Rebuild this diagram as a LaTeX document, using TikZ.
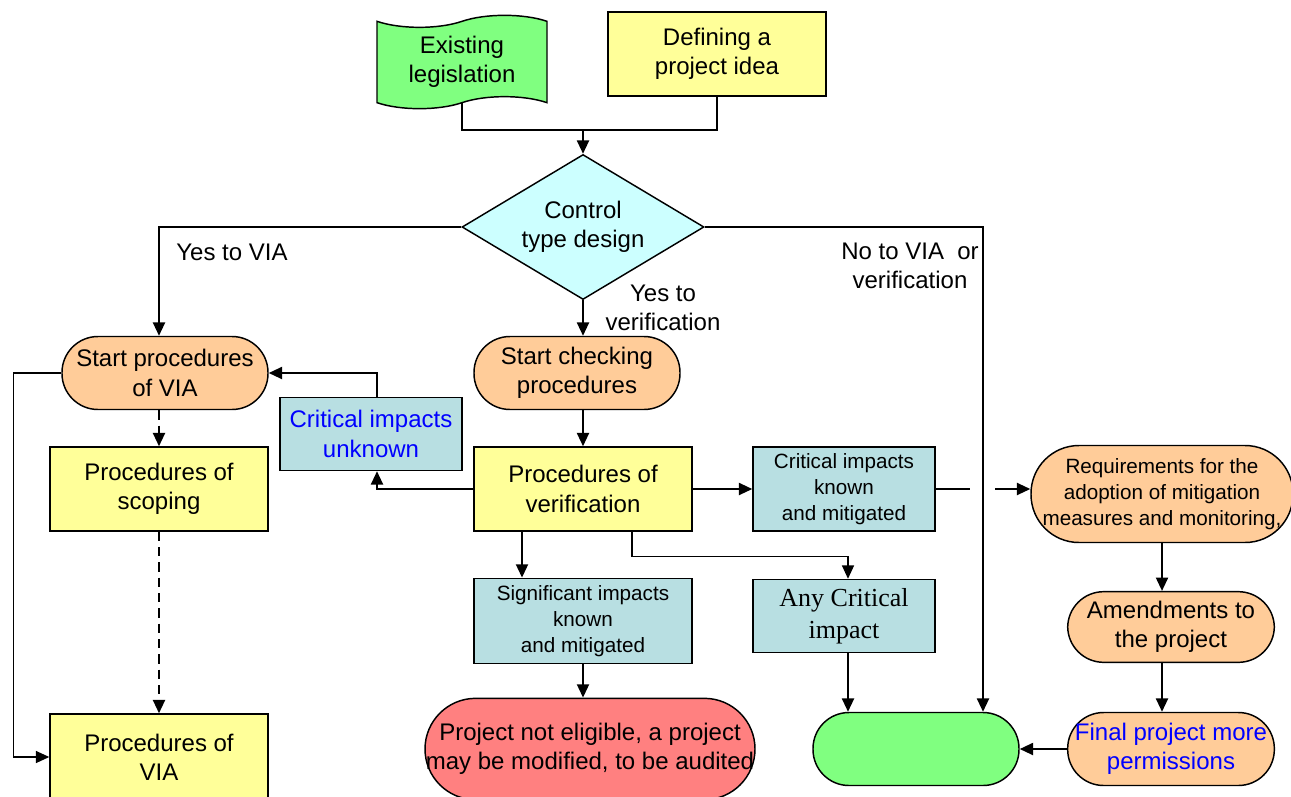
\documentclass[tikz,border=0pt]{standalone}
\usepackage{fontspec}
\setmainfont{Liberation Sans}
\newfontfamily\timesfont{Liberation Serif}
\usetikzlibrary{arrows.meta,positioning,shapes.geometric,shapes.symbols}

\begin{document}
\begin{tikzpicture}[
    x=0.75pt, y=-0.75pt,
    every node/.style={align=center, inner sep=0pt, line width=1.1pt,
        font=\fontsize{18}{22}\selectfont},
    box/.style={draw, rectangle, minimum width=163.5pt, minimum height=63pt},
    smallbox/.style={box, minimum width=136.5pt},
    pill/.style={draw, rectangle, rounded corners=27pt, fill=peach,
        minimum width=154.5pt, minimum height=54.75pt},
    smalltext/.style={font=\fontsize{15.5}{19.5}\selectfont},
    flow/.style={line width=1.5pt, -{Triangle[length=10pt,width=9pt]}},
    thinflow/.style={line width=0.9pt, -{Triangle[length=10pt,width=9pt]}},
    link/.style={line width=0.9pt}
]
\definecolor{grn}{HTML}{80FF80}
\definecolor{ylw}{HTML}{FFFF99}
\definecolor{peach}{HTML}{FFCC99}
\definecolor{cyn}{HTML}{CCFFFF}
\definecolor{teal}{HTML}{B8DFE2}
\definecolor{rd}{HTML}{FF8080}

    \useasboundingbox (0,0) rectangle (1291,796);

    \node [tape, draw, fill=grn, minimum width=127.5pt, minimum height=70pt,
        tape bend height=9pt, tape bend top=in and out,
        tape bend bottom=in and out] (legis) at (462,62) {Existing\\legislation};
    \node [box, fill=ylw] (idea) at (717,54) {Defining a\\project idea};
    \node [diamond, draw, fill=cyn, aspect=1.67, minimum width=181.5pt,
        minimum height=108.75pt] (ctrl) at (583,227) {Control\\type design};

    \node [pill] (startvia) at (165,373) {Start procedures\\of VIA};
    \node [pill] (startchk) at (577,373) {Start checking\\procedures};
    \node [smallbox, fill=teal, text=blue, minimum height=54.75pt]
        (unknown) at (371,434) {Critical impacts\\unknown};
    \node [box, fill=ylw] (scoping) at (159,489) {Procedures of\\scoping};
    \node [box, fill=ylw] (verif) at (583,489) {Procedures of\\verification};
    \node [smallbox, smalltext, fill=teal] (known) at (844,489)
        {Critical impacts\\known\\and mitigated};
    \node [pill, smalltext, rounded corners=36pt, minimum width=196.5pt,
        minimum height=72.75pt] (req) at (1162,494)
        {Requirements for the\\adoption of mitigation\\measures and monitoring,};
    \node [box, smalltext, fill=teal, minimum height=64pt] (sig) at (583,621)
        {Significant impacts\\known\\and mitigated};
    \node [smallbox, fill=teal, minimum height=54.75pt,
        font=\timesfont\fontsize{19.5}{24}\selectfont] (anycrit) at (844,616)
        {Any Critical\\impact};
    \node [pill, minimum width=155pt, minimum height=53pt] (amend)
        at (1171,627) {Amendments to\\the project};
    \node [pill, minimum width=155pt, text=blue] (final) at (1171,749)
        {Final project more\\permissions};
    \node [pill, fill=grn] (done) at (916,749) {};
    \node [pill, fill=rd, rounded corners=38pt, minimum width=247.5pt,
        minimum height=76pt] (noelig) at (590,749)
        {Project not eligible, a project\\may be modified, to be audited};
    \node [box, fill=ylw, minimum height=64.5pt] (procvia) at (159,757)
        {Procedures of\\VIA};

    \node (yesvia) at (232,252) {Yes to VIA};
    \node (yesver) at (663,308) {Yes to\\verification};
    \node (novia) at (910,266) {No to VIA\ \ or\\verification};

    \coordinate (join) at (583,130);
    \coordinate (nobend) at (983,227);
    \coordinate (hopl) at (970,489);
    \coordinate (hopr) at (995,489);

    \draw [link] (legis.south) |- (join) -| (idea.south);
    \draw [flow] (join) -- (ctrl.north);
    \draw [flow] (ctrl.west) -| (scoping.north |- startvia.north);
    \draw [flow] (ctrl.south) -- (verif.north |- startchk.north);
    \draw [flow] (ctrl.east) -| (nobend |- done.north);

    \draw [flow, dash pattern=on 7pt off 4.5pt]
        (scoping.north |- startvia.south) -- (scoping.north);
    \draw [flow, dash pattern=on 7pt off 4.5pt] (scoping.south) -- (procvia.north);
    \draw [thinflow] (startvia.west) -- ++(-48,0) |- (procvia.west);

    \draw [flow] ([xshift=4.5pt]unknown.north) |- (startvia.east);
    \draw [flow] (verif.west) -| ([xshift=4.5pt]unknown.south);
    \draw [flow] (verif.north |- startchk.south) -- (verif.north);
    \draw [flow] (verif.east) -- (known.west);
    \draw [link] (known.east) -- (known.east -| hopl);
    \draw [flow] (known.east -| hopr) -- (known.east -| req.west);

    \draw [flow] ([xshift=-45.75pt]verif.south) -- ([xshift=-45.75pt]sig.north);
    \draw [thinflow] ([xshift=36.75pt]verif.south) -- ++(0,25)
        -| ([xshift=3pt]anycrit.north);
    \draw [flow] (sig.south) -- (sig.south |- noelig.north);
    \draw [flow] ([xshift=3pt]anycrit.south) -- ([xshift=3pt]anycrit.south |- done.north);

    \draw [flow] (req.south) -- (req.south |- amend.north);
    \draw [flow] (req.south |- amend.south) -- (req.south |- final.north);
    \draw [flow] (final.west) -- (done.east);
\end{tikzpicture}
\end{document}
